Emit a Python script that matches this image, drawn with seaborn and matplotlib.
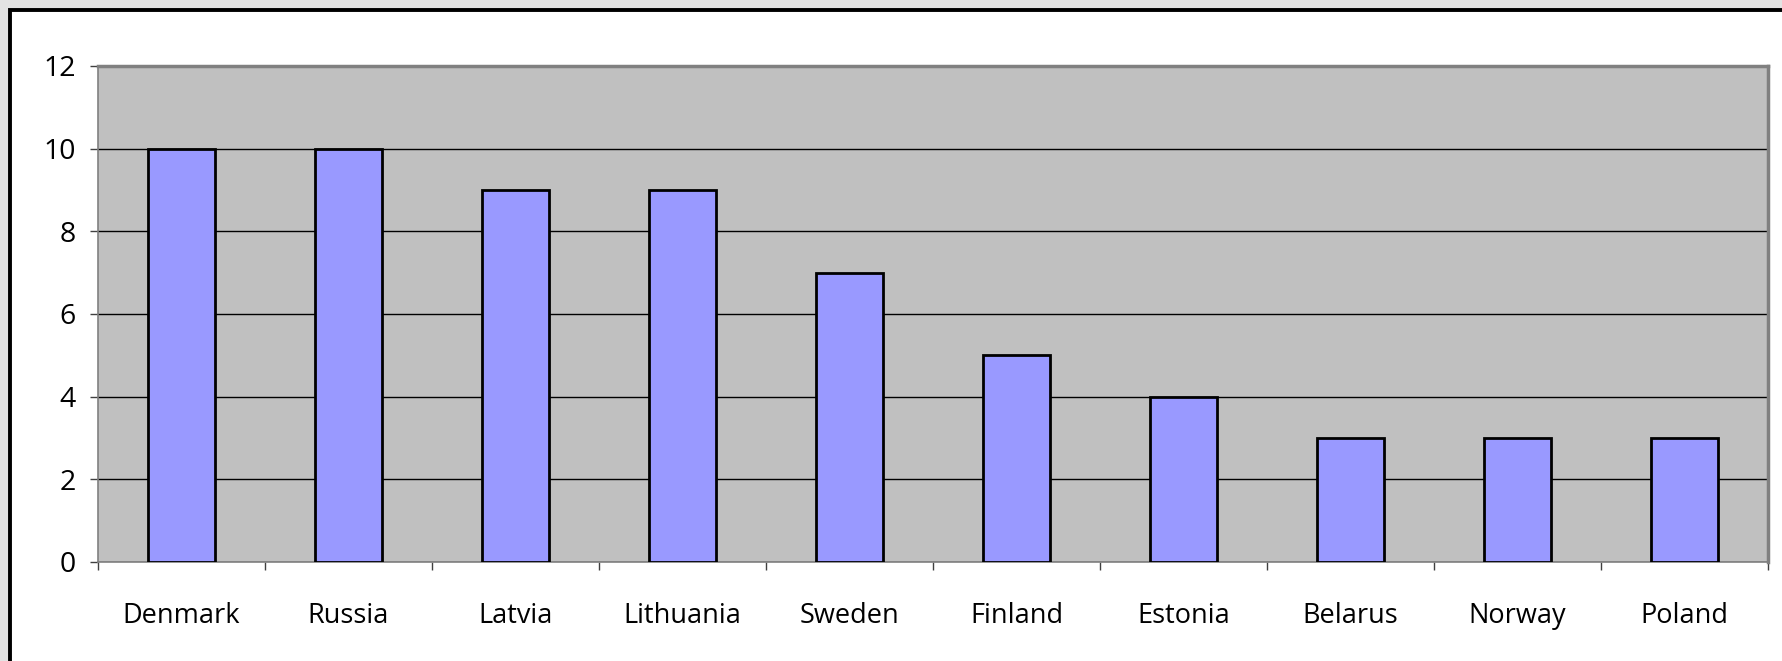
#bibliotecas
import numpy as np
import matplotlib.pyplot as plt
import seaborn as sns
from matplotlib.patches import Rectangle
from matplotlib.ticker import FixedLocator

#dados
countries = ['Denmark', 'Russia', 'Latvia', 'Lithuania', 'Sweden',
             'Finland', 'Estonia', 'Belarus', 'Norway', 'Poland']
values = [10, 10, 9, 9, 7, 5, 4, 3, 3, 3]
yticks = [0, 2, 4, 6, 8, 10, 12]

plt.rcParams['font.family'] = ['Open Sans', 'DejaVu Sans']

fig = plt.figure(figsize=(17.82, 6.61), dpi=100, facecolor='#e3e3e3')

#moldura branca com borda preta (topo e esquerda)
W, H = 1782, 661
frame = Rectangle((10 / W, -0.1), 1.2, (H - 10) / H + 0.1,
                  transform=fig.transFigure, facecolor='white',
                  edgecolor='black', linewidth=2.8, zorder=-10)
fig.patches.append(frame)

ax = fig.add_axes([98 / W, 1 - 562 / H, (1768 - 98) / W, (562 - 66) / H])
ax.set_zorder(5)
ax.set_facecolor('#c0c0c0')

sns.barplot(x=countries, y=values, color='#9999ff', saturation=1,
            edgecolor='black', linewidth=2, width=0.4, ax=ax, zorder=3)

ax.set_ylim(0, 12)
ax.set_xlim(-0.5, len(countries) - 0.5)
ax.set_yticks(yticks)
ax.yaxis.grid(True, color='black', linewidth=1)
ax.set_axisbelow(True)

#ticks do eixo x nas divisões, rótulos no centro
ax.xaxis.set_major_locator(FixedLocator(np.arange(-0.5, len(countries), 1)))
ax.xaxis.set_minor_locator(FixedLocator(np.arange(len(countries))))
ax.set_xticklabels([], minor=False)
ax.set_xticklabels(countries, minor=True, fontsize=19.5)
ax.tick_params(axis='x', which='major', length=6, width=1, color='#404040')
ax.tick_params(axis='x', which='minor', length=0, pad=29)
ax.tick_params(axis='y', length=6, width=1, color='#404040', labelsize=20.5, pad=10)

for side in ['left', 'bottom']:
    ax.spines[side].set_color('#808080')
    ax.spines[side].set_linewidth(1.2)
for side in ['top', 'right']:
    ax.spines[side].set_color('#808080')
    ax.spines[side].set_linewidth(2.5)

ax.set_xlabel('')
ax.set_ylabel('')

fig.savefig('out.png', dpi=100, facecolor=fig.get_facecolor())
